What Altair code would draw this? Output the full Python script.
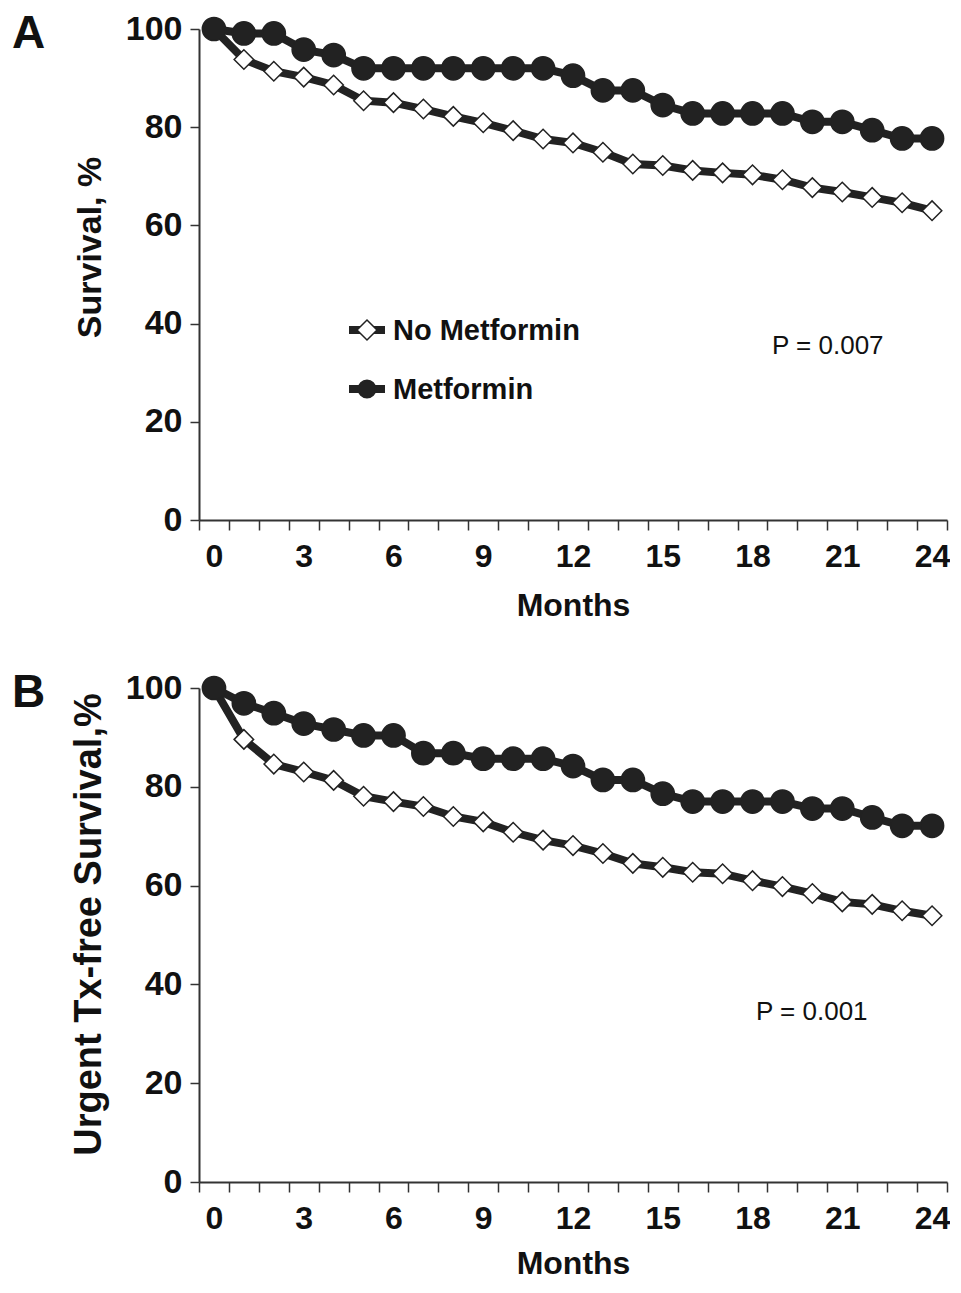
import altair as alt
import pandas as pd

FONT = "Liberation Sans"
DARK = "#222222"

GROUPS = ["No Metformin", "Metformin"]
MONTHS = list(range(25))

# Panel A: overall survival (%)
A_NO_MET = [100, 93.8, 91.4, 90.2, 88.6, 85.4, 85.0, 83.7, 82.2, 80.9, 79.3, 77.6, 76.8,
            74.9, 72.5, 72.2, 71.2, 70.7, 70.3, 69.3, 67.7, 66.8, 65.7, 64.6, 63.0]
A_MET = [100, 99.1, 99.1, 95.8, 94.7, 92.0, 92.0, 92.0, 92.0, 92.0, 92.0, 92.0, 90.5,
         87.5, 87.5, 84.5, 82.8, 82.8, 82.8, 82.8, 81.1, 81.1, 79.4, 77.7, 77.7]

# Panel B: urgent transplant-free survival (%)
B_NO_MET = [100, 89.6, 84.6, 83.0, 81.3, 78.1, 77.0, 76.0, 74.0, 72.9, 70.8, 69.2, 68.1,
            66.5, 64.5, 63.7, 62.7, 62.4, 61.0, 59.8, 58.4, 56.7, 56.2, 54.9, 53.9]
B_MET = [100, 96.9, 94.9, 92.8, 91.6, 90.4, 90.4, 86.8, 86.8, 85.7, 85.7, 85.7, 84.2,
         81.4, 81.4, 78.6, 77.0, 77.0, 77.0, 77.0, 75.6, 75.6, 73.8, 72.1, 72.1]

LETTERS = ["A", "B"]
P_TEXTS = ["P = 0.007", "P = 0.001"]
Y_TITLES = ["Survival, %", "Urgent Tx-free Survival,%"]
X_TITLE = "Months"
Y_TICKS = [0, 20, 40, 60, 80, 100]
X_TICK_EDGES = [m - 0.5 for m in range(26)]

SHAPES = ["diamond", "circle"]
FILLS = ["white", DARK]
SIZES = [380, 540]


def long_df(no_met, met):
    rows = []
    for name, vals in zip(GROUPS, [no_met, met]):
        for m, v in zip(MONTHS, vals):
            rows.append({"month": m, "value": v, "group": name})
    return pd.DataFrame(rows)


W = 748
HALF_BAND = W / 25 / 2


def legend_layers():
    """Legend drawn as line + marker + label for each series (inside panel A)."""
    layers = []
    for i, name in enumerate(GROUPS):
        row_y = 301 + i * 59
        d = pd.DataFrame({"t": [name]})
        layers.append(alt.Chart(d).mark_rule(strokeWidth=8, color=DARK).encode(
            x=alt.value(150), x2=alt.value(186), y=alt.value(row_y)))
        layers.append(alt.Chart(d).mark_point(
            shape=SHAPES[i], filled=True, fill=FILLS[i], stroke=DARK, strokeWidth=1.5,
            size=400 if i == 0 else 300, opacity=1,
        ).encode(x=alt.value(168), y=alt.value(row_y)))
        layers.append(alt.Chart(d).mark_text(
            align="left", baseline="middle", fontSize=29, fontWeight="bold",
            font=FONT, color="#111111",
        ).encode(x=alt.value(194), y=alt.value(row_y + 1), text="t:N"))
    return layers


def panel(df, letter, ptext, ptx, pty, ytitle, ytitle_size, title_y, xtitle_y, height, legend):
    xscale = alt.Scale(domain=[-0.5, 24.5], nice=False, zero=False)
    yscale = alt.Scale(domain=[0, 100], nice=False)
    xaxis = alt.Axis(
        values=X_TICK_EDGES,
        labelExpr="(datum.value + 0.5) % 3 == 0 ? format(datum.value + 0.5, 'd') : ''",
        labelOffset=alt.condition("datum.value > 24", alt.value(0), alt.value(HALF_BAND)),
        labelFlush=False,
        labelOverlap=False,
        labelBound=False,
        tickSize=10,
        labelPadding=11,
        labelFontSize=32,
        labelFontWeight="bold",
        title=X_TITLE,
        titleFontSize=32,
        titleFontWeight="bold",
        titleY=xtitle_y,
    )
    yaxis = alt.Axis(
        values=Y_TICKS,
        tickSize=9,
        labelPadding=8,
        labelFontSize=34,
        labelFontWeight="bold",
        title=ytitle,
        titleFontSize=ytitle_size,
        titleFontWeight="bold",
        titleBaseline="alphabetic",
        titleX=-99,
        titleY=title_y,
    )
    x = alt.X("month:Q", scale=xscale, axis=xaxis)
    y = alt.Y("value:Q", scale=yscale, axis=yaxis)

    lines = alt.Chart(df).mark_line(strokeWidth=8, color=DARK).encode(
        x=x, y=y, detail="group:N",
    )
    points = alt.Chart(df).mark_point(filled=True, opacity=1, stroke=DARK, strokeWidth=1.5).encode(
        x=x, y=y,
        shape=alt.Shape("group:N", scale=alt.Scale(domain=GROUPS, range=SHAPES), legend=None),
        fill=alt.Fill("group:N", scale=alt.Scale(domain=GROUPS, range=FILLS), legend=None),
        size=alt.Size("group:N", scale=alt.Scale(domain=GROUPS, range=SIZES), legend=None),
    )
    letter_mark = alt.Chart(pd.DataFrame({"t": [letter]})).mark_text(
        align="left", baseline="alphabetic", fontSize=46, fontWeight="bold",
        font=FONT, color="#111111",
    ).encode(x=alt.value(-187), y=alt.value(19), text="t:N")
    p_mark = alt.Chart(pd.DataFrame({"t": [ptext]})).mark_text(
        align="left", baseline="middle", fontSize=26, font=FONT, color="#111111",
    ).encode(x=alt.value(ptx), y=alt.value(pty), text="t:N")

    layers = [lines, points, letter_mark, p_mark]
    if legend:
        layers += legend_layers()
    return alt.layer(*layers).properties(width=W, height=height)


pA = panel(long_df(A_NO_MET, A_MET), LETTERS[0], P_TEXTS[0], 573, 317,
           Y_TITLES[0], 34, 218, 70, 491, True)
pB = panel(long_df(B_NO_MET, B_MET), LETTERS[1], P_TEXTS[1], 557, 324,
           Y_TITLES[1], 38, 236, 66, 494, False)

chart = alt.vconcat(pA, pB, spacing=49).properties(
    padding={"left": 4, "top": 3, "right": 0, "bottom": 0}
).configure_view(stroke=None).configure_axis(
    grid=False,
    domainColor="#333333",
    domainWidth=2,
    tickColor="#333333",
    tickWidth=1.5,
    labelColor="#111111",
    titleColor="#111111",
    labelFont=FONT,
    titleFont=FONT,
).configure_text(font=FONT)

chart.save("out.html", embed_options={"renderer": "svg", "actions": False})
